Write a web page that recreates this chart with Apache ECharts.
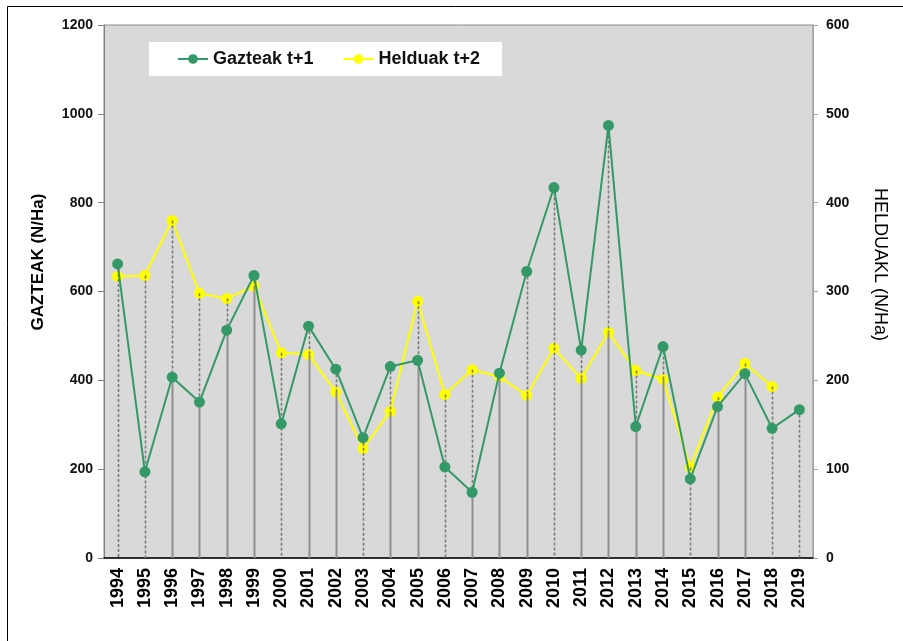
<!DOCTYPE html>
<html>
<head>
<meta charset="utf-8">
<script src="https://cdn.jsdelivr.net/npm/echarts@6/dist/echarts.min.js"></script>
<style>
  html, body { margin: 0; padding: 0; background: #fff; }
  #chart { width: 903px; height: 641px; }
</style>
</head>
<body>
<div id="chart"></div>
<script>
// years on the x axis
const years = ['1994', '1995', '1996', '1997', '1998', '1999', '2000', '2001', '2002', '2003', '2004', '2005', '2006',
  '2007', '2008', '2009', '2010', '2011', '2012', '2013', '2014', '2015', '2016', '2017', '2018', '2019'];

// Gazteak t+1 (left axis, N/Ha)
const gazteak = [662, 194, 407, 351, 513, 636, 302, 522, 425, 271, 431, 445, 205,
  148, 416, 645, 834, 468, 974, 296, 476, 178, 341, 415, 292, 334];

// Helduak t+2 (right axis, N/Ha) - no value for 2019
const helduak = [317, 318, 380, 298, 292, 306, 231, 229, 187, 123, 165, 289, 184,
  212, 204, 183, 236, 202, 254, 211, 201, 102, 181, 219, 193, null];

const leftTicks = [0, 1200, 200];
const rightTicks = [0, 600, 100];

// drop lines that stay dashed all the way to the axis
const dashedDropYears = ['1994', '1995', '2000', '2003', '2006', '2010', '2015', '2018', '2019'];

const GREEN = '#339966';
const YELLOW = '#ffff00';
const ratio = leftTicks[1] / rightTicks[1];

const dropData = years.map(function (y, i) {
  return [y, gazteak[i], helduak[i] == null ? '-' : helduak[i]];
});

const chart = echarts.init(document.getElementById('chart'));

const option = {
  backgroundColor: '#fff',
  animation: false,
  textStyle: { fontFamily: 'Liberation Sans, Arial, sans-serif' },
  graphic: [{
    type: 'rect',
    silent: true,
    shape: { x: 7.5, y: 6.5, width: 1000, height: 1000 },
    style: { fill: 'none', stroke: '#000', lineWidth: 1 }
  }],
  grid: {
    left: 104,
    right: 90,
    top: 25,
    bottom: 83,
    show: true,
    backgroundColor: '#d9d9d9',
    borderColor: '#8c8c8c',
    borderWidth: 1
  },
  legend: {
    left: 149,
    top: 42,
    backgroundColor: '#fff',
    padding: [8, 22, 8, 28],
    itemGap: 29,
    itemWidth: 30,
    itemHeight: 12,
    textStyle: { fontSize: 18, fontWeight: 'bold', color: '#111' },
    data: ['Gazteak t+1', 'Helduak t+2']
  },
  xAxis: {
    type: 'category',
    data: years,
    boundaryGap: true,
    axisLine: { lineStyle: { color: '#000', width: 1.5 } },
    axisTick: { show: false },
    axisLabel: {
      rotate: 90,
      interval: 0,
      margin: 10,
      color: '#000',
      fontSize: 18,
      fontWeight: 'bold'
    },
    splitLine: { show: false }
  },
  yAxis: [{
    type: 'value',
    min: leftTicks[0],
    max: leftTicks[1],
    interval: leftTicks[2],
    position: 'left',
    name: 'GAZTEAK (N/Ha)',
    nameLocation: 'middle',
    nameGap: 57,
    nameTextStyle: { fontSize: 17, fontWeight: 'bold', color: '#000', padding: [0, 0, 0, 59] },
    axisLine: { show: true, lineStyle: { color: '#808080' } },
    axisTick: { show: true, length: 6, lineStyle: { color: '#808080' } },
    axisLabel: {
      color: '#111', fontSize: 14, fontWeight: 'bold', margin: 11,
      formatter: function (v) { return String(v); }
    },
    splitLine: { show: false }
  }, {
    type: 'value',
    min: rightTicks[0],
    max: rightTicks[1],
    interval: rightTicks[2],
    position: 'right',
    name: 'HELDUAKL (N/Ha)',
    nameLocation: 'middle',
    nameRotate: -90,
    nameGap: 58,
    nameTextStyle: { fontSize: 18, color: '#000', padding: [0, 54, 0, 0] },
    axisLine: { show: true, lineStyle: { color: '#a0a0a0' } },
    axisTick: { show: true, length: 5, lineStyle: { color: '#a0a0a0' } },
    axisLabel: { color: '#111', fontSize: 14, fontWeight: 'bold', margin: 13 },
    splitLine: { show: false }
  }],
  series: [{
    name: 'Helduak t+2',
    type: 'line',
    yAxisIndex: 1,
    data: helduak,
    z: 2,
    symbol: 'circle',
    symbolSize: 11,
    lineStyle: { color: YELLOW, width: 2 },
    itemStyle: { color: YELLOW }
  }, {
    name: 'drops',
    type: 'custom',
    yAxisIndex: 0,
    data: dropData,
    encode: { x: 0, y: 1 },
    z: 3,
    silent: true,
    renderItem: function (params, api) {
      const i = api.value(0);
      const g = api.value(1);
      const hRaw = api.value(2);
      const h = isNaN(hRaw) ? g : hRaw * ratio;
      const top = Math.max(g, h);
      const low = Math.min(g, h);
      const pTop = api.coord([i, top]);
      const pLow = api.coord([i, low]);
      const pZero = api.coord([i, 0]);
      const x = Math.round(pTop[0]) + 0.5;
      const dashed = { stroke: '#7a7a7a', lineWidth: 1.6, lineDash: [3, 2] };
      const solid = { stroke: '#8f8f8f', lineWidth: 2 };
      if (dashedDropYears.indexOf(years[i]) >= 0) {
        return {
          type: 'line',
          shape: { x1: x, y1: pTop[1], x2: x, y2: pZero[1] },
          style: dashed
        };
      }
      return {
        type: 'group',
        children: [{
          type: 'line',
          shape: { x1: x, y1: pTop[1], x2: x, y2: pLow[1] },
          style: dashed
        }, {
          type: 'line',
          shape: { x1: x, y1: pLow[1], x2: x, y2: pZero[1] },
          style: solid
        }]
      };
    }
  }, {
    name: 'Gazteak t+1',
    type: 'line',
    yAxisIndex: 0,
    data: gazteak,
    z: 4,
    symbol: 'circle',
    symbolSize: 11,
    lineStyle: { color: GREEN, width: 2 },
    itemStyle: { color: GREEN }
  }]
};

chart.setOption(option);
</script>
</body>
</html>
